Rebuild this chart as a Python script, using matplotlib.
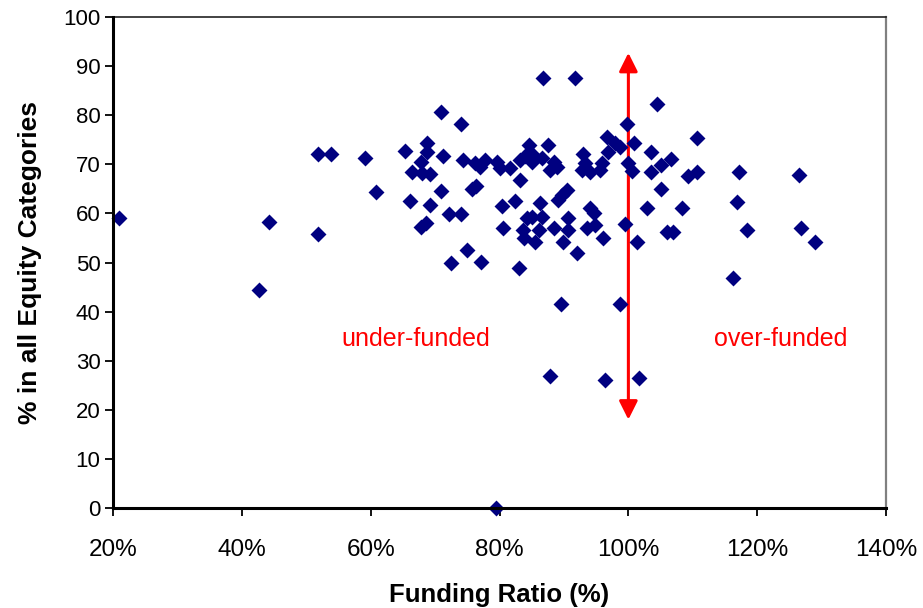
import matplotlib
matplotlib.use("Agg")
import matplotlib.pyplot as plt
from matplotlib.ticker import FuncFormatter

plt.rcParams['font.family'] = ['Liberation Sans', 'DejaVu Sans']

# Funding ratio (%) of each pension fund
funding_ratio = [
    20.9, 42.6, 44.2, 51.9, 51.9, 53.8, 59.1, 60.9, 65.3, 66.1,
    66.4, 67.8, 67.9, 68.7, 68.7, 69.2, 69.2, 67.8, 68.6, 70.9,
    70.9, 71.3, 72.1, 72.4, 74.0, 74.0, 74.3, 74.9, 75.7, 76.3,
    76.2, 77.0, 77.8, 77.1, 79.6, 80.1, 81.6, 80.4, 80.5, 79.5,
    82.4, 83.2, 84.0, 84.6, 83.2, 83.1, 83.7, 84.2, 83.8, 85.0,
    86.6, 85.0, 86.3, 85.0, 86.6, 86.1, 85.5, 86.7, 87.6, 88.4,
    87.9, 88.9, 88.4, 87.9, 89.1, 89.7, 90.5, 90.7, 90.7, 89.9,
    89.5, 91.7, 92.0, 93.0, 93.3, 92.8, 94.1, 94.1, 94.6, 93.5,
    94.8, 95.9, 95.6, 96.0, 96.3, 96.7, 97.9, 96.9, 98.7, 99.8,
    100.8, 99.9, 100.5, 99.5, 98.7, 101.3, 101.6, 102.9, 103.5, 103.5,
    104.4, 105.0, 105.0, 106.6, 106.0, 107.0, 108.3, 109.3, 110.6, 110.6,
    116.2, 116.8, 117.2, 118.4, 126.5, 126.8, 129.0,
]

# Share of assets held in all equity categories (%)
equity_share = [
    59.0, 44.4, 58.2, 55.8, 72.0, 72.0, 71.2, 64.4, 72.8, 62.6,
    68.5, 70.5, 68.2, 74.3, 72.6, 68.0, 61.7, 57.2, 58.0, 80.6,
    64.6, 71.7, 59.9, 49.8, 78.2, 59.9, 70.9, 52.5, 65.0, 65.6,
    70.2, 69.5, 70.9, 50.2, 70.5, 69.2, 69.2, 61.6, 57.0, 0.0,
    62.6, 70.9, 71.6, 73.9, 66.8, 48.8, 56.6, 59.0, 54.9, 72.2,
    71.2, 70.5, 62.1, 59.3, 59.3, 56.6, 54.2, 87.5, 73.9, 70.5,
    68.8, 69.5, 57.0, 26.9, 62.7, 63.7, 64.8, 59.0, 56.6, 54.2,
    41.5, 87.5, 51.9, 72.2, 70.2, 68.8, 68.5, 61.0, 60.0, 57.0,
    57.6, 70.2, 68.8, 54.9, 26.1, 75.6, 74.3, 72.6, 73.6, 78.2,
    74.3, 70.3, 68.7, 57.8, 41.5, 54.1, 26.5, 61.0, 72.6, 68.5,
    82.3, 69.9, 64.9, 71.0, 56.3, 56.3, 61.0, 67.6, 68.4, 75.3,
    46.8, 62.3, 68.4, 56.6, 67.9, 57.0, 54.1,
]

x_ticks = [20, 40, 60, 80, 100, 120, 140]
y_ticks = list(range(0, 101, 10))

# Full-funding marker and region labels
full_funding = 100
arrow_top, arrow_bottom = 92.7, 18.0
region_labels = [("under-funded", 67.0, 34.4), ("over-funded", 123.6, 34.4)]

fig = plt.figure(figsize=(9.23, 6.08), dpi=100)
ax = fig.add_axes([0.1224, 0.1645, 0.8376, 0.8075])

ax.scatter(funding_ratio, equity_share, marker='D', s=66, color='#000080',
           linewidths=0, zorder=3, clip_on=False)

ax.set_xlim(20, 140)
ax.set_ylim(0, 100)
ax.set_xticks(x_ticks)
ax.set_yticks(y_ticks)
ax.xaxis.set_major_formatter(FuncFormatter(lambda v, p: f"{v:.0f}%"))

for side in ('left', 'bottom'):
    ax.spines[side].set_linewidth(2.2)
    ax.spines[side].set_color('black')
ax.spines['top'].set_linewidth(1.2)
ax.spines['top'].set_color('#222222')
ax.spines['right'].set_linewidth(1.6)
ax.spines['right'].set_color('#808080')
ax.spines['left'].set_zorder(4)
ax.spines['bottom'].set_zorder(4)

ax.tick_params(axis='both', direction='out', length=6, width=1.3)
ax.tick_params(axis='x', pad=16, labelsize=17.5)
ax.tick_params(axis='y', pad=3, labelsize=16)

ax.set_xlabel("Funding Ratio (%)", fontsize=18.5, fontweight='bold', labelpad=16)
ax.set_ylabel("% in all Equity Categories", fontsize=19, fontweight='bold', labelpad=15)

ax.annotate("", xy=(full_funding, arrow_top), xytext=(full_funding, arrow_bottom),
            arrowprops=dict(arrowstyle='<|-|>', color='#ff0000', lw=2.2,
                            mutation_scale=28, shrinkA=0, shrinkB=0), zorder=2)

for text, x, y in region_labels:
    ax.text(x, y, text, color='#ff0000', fontsize=18, ha='center', va='center')

fig.savefig("out.png", dpi=100)
